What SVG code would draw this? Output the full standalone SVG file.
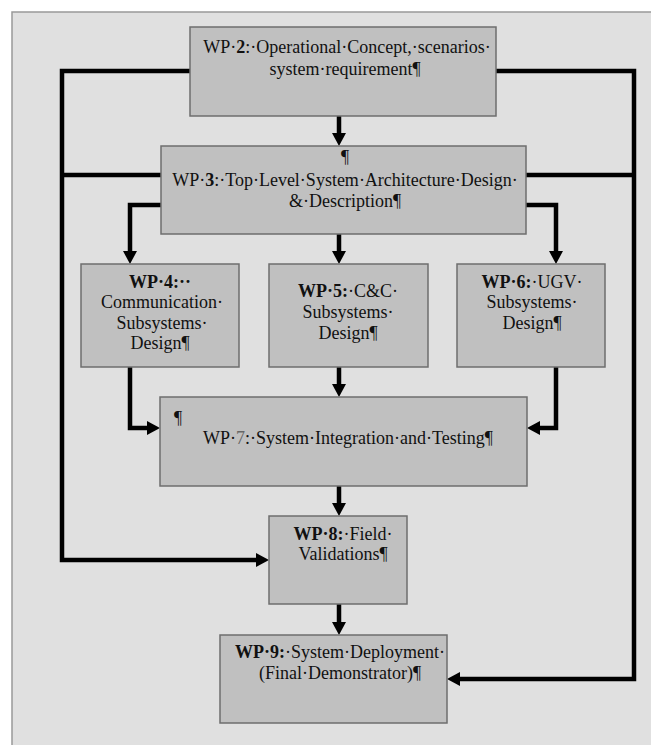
<svg xmlns="http://www.w3.org/2000/svg" width="651" height="745" viewBox="0 0 651 745">
<defs>
<marker id="ah" markerUnits="userSpaceOnUse" markerWidth="14" markerHeight="14" refX="5" refY="7" orient="auto" overflow="visible">
<path d="M0,0 L13,7 L0,14 Z" fill="#000"/>
</marker>
<style>
.box{fill:#c0c0c0;stroke:#6e6e6e;stroke-width:1.5}
.t{font-family:'Liberation Serif','Times New Roman','DejaVu Serif',serif;font-size:18px;fill:#111;text-anchor:middle}
.b{font-weight:bold}
.c{fill:none;stroke:#000;stroke-width:4.5;stroke-linejoin:miter}
.a{marker-end:url(#ah)}
</style>
</defs>
<rect x="0" y="0" width="651" height="745" fill="#ffffff"/>
<rect x="12" y="12" width="650" height="745" fill="#e0e0e0" stroke="#999" stroke-width="1.5"/>

<g id="connectors">
<path class="c a" d="M190,71 H62 V560 H261"/>
<path class="c" d="M161,175 H62"/>
<path class="c a" d="M496,71 H634 V679 H455"/>
<path class="c" d="M526,175 H634"/>
<path class="c a" d="M339,116 V138"/>
<path class="c a" d="M161,205 H130 V256"/>
<path class="c a" d="M339,234 V256"/>
<path class="c a" d="M526,205 H556 V256"/>
<path class="c a" d="M130,367 V428 H152"/>
<path class="c a" d="M339,367 V389"/>
<path class="c a" d="M556,367 V428 H535"/>
<path class="c a" d="M339,486 V508"/>
<path class="c a" d="M339,604 V627"/>
</g>

<g id="wp2">
<rect class="box" x="190" y="27" width="306" height="89"/>
<text class="t" x="347" y="53">WP·<tspan class="b">2</tspan>:·Operational·Concept,·scenarios·</text>
<text class="t" x="345" y="75">system·requirement¶</text>
</g>

<g id="wp3">
<rect class="box" x="161" y="146" width="365" height="88"/>
<text class="t" x="345" y="163" font-size="13">¶</text>
<text class="t" x="345" y="186">WP·<tspan class="b">3</tspan>:·Top·Level·System·Architecture·Design·</text>
<text class="t" x="345" y="207">&amp;·Description¶</text>
</g>

<g id="wp4">
<rect class="box" x="81" y="264" width="158" height="103"/>
<text class="t b" x="160" y="288">WP·4:··</text>
<text class="t" x="162" y="308">Communication·</text>
<text class="t" x="162" y="329">Subsystems·</text>
<text class="t" x="160" y="349">Design¶</text>
</g>

<g id="wp5">
<rect class="box" x="269" y="264" width="159" height="103"/>
<text class="t" x="348" y="297"><tspan class="b">WP·5:</tspan>·C&amp;C·</text>
<text class="t" x="348" y="318">Subsystems·</text>
<text class="t" x="348" y="339">Design¶</text>
</g>

<g id="wp6">
<rect class="box" x="457" y="264" width="148" height="103"/>
<text class="t" x="532" y="288"><tspan class="b">WP·6:</tspan>·UGV·</text>
<text class="t" x="532" y="308">Subsystems·</text>
<text class="t" x="532" y="329">Design¶</text>
</g>

<g id="wp7">
<rect class="box" x="160" y="397" width="367" height="89"/>
<text class="t" x="178" y="424">¶</text>
<text class="t" x="348" y="444">WP·<tspan fill="#666">7</tspan>:·System·Integration·and·Testing¶</text>
</g>

<g id="wp8">
<rect class="box" x="269" y="516" width="138" height="88"/>
<text class="t" x="343" y="540"><tspan class="b">WP·8:</tspan>·Field·</text>
<text class="t" x="343" y="560">Validations¶</text>
</g>

<g id="wp9">
<rect class="box" x="220" y="635" width="227" height="88"/>
<text class="t" x="340" y="658"><tspan class="b">WP·9:</tspan>·System·Deployment·</text>
<text class="t" x="340" y="679">(Final·Demonstrator)¶</text>
</g>
</svg>
